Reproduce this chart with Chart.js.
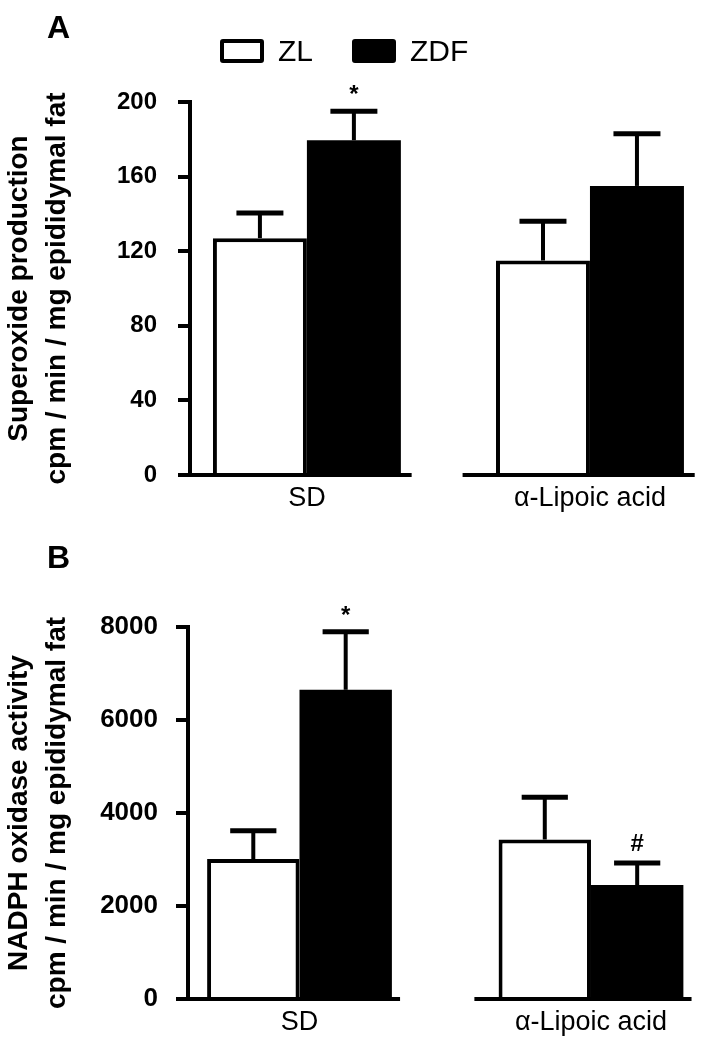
<!DOCTYPE html>
<html>
<head>
<meta charset="utf-8">
<title>Superoxide production and NADPH oxidase activity</title>
<script src="https://cdn.jsdelivr.net/npm/chart.js@4.4.1/dist/chart.umd.min.js"></script>
<style>
  html, body { margin: 0; padding: 0; background: #fff; }
  body { font-family: "Liberation Sans", Arial, Helvetica, sans-serif; color: #000; }
  #page { position: relative; width: 703px; height: 1045px; overflow: hidden; }
  .panel { position: absolute; left: 0; width: 703px; }
  #panelA { top: 0; height: 520px; }
  #panelB { top: 520px; height: 525px; }
  .letter { position: absolute; left: 47px; font-weight: bold; font-size: 32px; line-height: 32px; }
  #letterA { top: 11px; }
  #letterB { top: 541px; }
  #legend { position: absolute; left: 220px; top: 39px; display: flex; align-items: center; height: 24px; }
  .item { display: flex; align-items: center; margin-right: 39px; font-size: 30px; line-height: 24px; }
  .swatch { width: 44px; height: 24px; box-sizing: border-box; border: 4px solid #000; border-radius: 3px; margin-right: 14px; }
</style>
</head>
<body>
<div id="page">
  <div class="panel" id="panelA"><canvas id="chartA"></canvas></div>
  <div class="panel" id="panelB"><canvas id="chartB"></canvas></div>
  <div class="letter" id="letterA">A</div>
  <div class="letter" id="letterB">B</div>
  <div id="legend"></div>
</div>
<script>
const FONT = "'Liberation Sans', Arial, Helvetica, sans-serif";

const categories = ["SD", "α-Lipoic acid"];
const seriesNames = ["ZL", "ZDF"];
const seriesFill = ["#ffffff", "#000000"];

// panel A - superoxide production (cpm / min / mg epididymal fat)
const superoxideZL = [127, 115];
const superoxideZLErr = [13.5, 21];
const superoxideZDF = [179.5, 155];
const superoxideZDFErr = [15.5, 28];
const superoxideZDFMarks = ["*", ""];
const superoxideTicks = [0, 40, 80, 120, 160, 200];

// panel B - NADPH oxidase activity
const nadphZL = [3010, 3430];
const nadphZLErr = [610, 910];
const nadphZDF = [6650, 2450];
const nadphZDFErr = [1250, 475];
const nadphZDFMarks = ["*", "#"];
const nadphTicks = [0, 2000, 4000, 6000, 8000];

function points(values) {
  return values.map((v, i) => ({ x: i, y: v }));
}

function buildDatasets(zl, zlErr, zdf, zdfErr, zdfMarks) {
  return [
    {
      label: seriesNames[0],
      data: points(zl),
      errors: zlErr,
      marks: [],
      backgroundColor: seriesFill[0],
      borderColor: "#000",
      borderWidth: 4,
      borderSkipped: "bottom"
    },
    {
      label: seriesNames[1],
      data: points(zdf),
      errors: zdfErr,
      marks: zdfMarks,
      backgroundColor: seriesFill[1],
      borderColor: "#000",
      borderWidth: 0
    }
  ];
}

// error bars (upper only), significance marks and the broken x baseline
const barExtras = {
  id: "barExtras",
  afterDatasetsDraw(chart, args, opts) {
    const { ctx, chartArea } = chart;
    const xs = chart.scales.x;
    const ys = chart.scales.y;
    const base = ys.getPixelForValue(0);
    ctx.save();
    ctx.strokeStyle = "#000";
    ctx.fillStyle = "#000";
    ctx.lineCap = "butt";

    ctx.lineWidth = 4;
    categories.forEach((c, i) => {
      const x0 = i === 0 ? chartArea.left - 2 : xs.getPixelForValue(i + opts.gapLeft);
      const x1 = xs.getPixelForValue(i + opts.gapRight);
      ctx.beginPath();
      ctx.moveTo(x0, base);
      ctx.lineTo(x1, base);
      ctx.stroke();
    });

    chart.data.datasets.forEach((ds, di) => {
      chart.getDatasetMeta(di).data.forEach((bar, i) => {
        const top = ys.getPixelForValue(ds.data[i].y + ds.errors[i]);
        const half = bar.width / 4;
        ctx.lineWidth = 4;
        ctx.beginPath();
        ctx.moveTo(bar.x, bar.y);
        ctx.lineTo(bar.x, top);
        ctx.stroke();
        ctx.lineWidth = 5;
        ctx.beginPath();
        ctx.moveTo(bar.x - half, top);
        ctx.lineTo(bar.x + half, top);
        ctx.stroke();
        const mark = ds.marks[i];
        if (mark) {
          ctx.font = `bold 24px ${FONT}`;
          ctx.textAlign = "center";
          ctx.textBaseline = "alphabetic";
          ctx.fillText(mark, bar.x, top - (mark === "*" ? 9 : 12));
        }
      });
    });
    ctx.restore();
  }
};

function makeChart(id, cfg) {
  return new Chart(document.getElementById(id), {
    type: "bar",
    data: { datasets: cfg.datasets },
    plugins: [barExtras],
    options: {
      responsive: true,
      maintainAspectRatio: false,
      animation: false,
      layout: { padding: { top: cfg.top, right: 10, left: 0, bottom: 0 } },
      datasets: { bar: { categoryPercentage: cfg.groupWidth, barPercentage: 1 } },
      plugins: {
        legend: { display: false },
        tooltip: { enabled: false },
        barExtras: { gapLeft: cfg.gapLeft, gapRight: cfg.gapRight }
      },
      scales: {
        x: {
          type: "linear",
          offset: false,
          bounds: "data",
          min: cfg.xMin,
          max: cfg.xMax,
          afterBuildTicks: (s) => { s.ticks = categories.map((c, i) => ({ value: i })); },
          afterFit: (s) => { s.height = cfg.xHeight; },
          ticks: {
            callback: (v) => categories[v] ?? "",
            autoSkip: false,
            maxRotation: 0,
            color: "#000",
            padding: 7,
            font: { family: FONT, size: 27 }
          },
          grid: { display: false, drawTicks: false, offset: false },
          border: { display: false }
        },
        y: {
          min: cfg.ticks[0],
          max: cfg.ticks[cfg.ticks.length - 1],
          afterBuildTicks: (s) => { s.ticks = cfg.ticks.map((v) => ({ value: v })); },
          afterFit: (s) => { s.width = cfg.yWidth; },
          ticks: {
            callback: (v) => String(v),
            color: "#000",
            padding: cfg.tickPad,
            font: { family: FONT, size: cfg.tickSize, weight: "bold" }
          },
          grid: {
            drawOnChartArea: false,
            drawTicks: true,
            tickLength: 12,
            tickWidth: 4,
            tickColor: "#000",
            color: "#000",
            lineWidth: 4
          },
          border: { display: true, color: "#000", width: 4 },
          title: {
            display: true,
            text: cfg.title,
            color: "#000",
            padding: { top: 0, bottom: 0 },
            font: { family: FONT, size: 28, weight: "bold", lineHeight: 38 / 28 }
          }
        }
      }
    }
  });
}

function renderLegend() {
  const box = document.getElementById("legend");
  seriesNames.forEach((name, i) => {
    const item = document.createElement("span");
    item.className = "item";
    item.innerHTML = `<span class="swatch" style="background:${seriesFill[i]}"></span>${name}`;
    box.appendChild(item);
  });
}

renderLegend();

makeChart("chartA", {
  datasets: buildDatasets(superoxideZL, superoxideZLErr, superoxideZDF, superoxideZDFErr, superoxideZDFMarks),
  ticks: superoxideTicks,
  title: ["Superoxide production", "cpm / min / mg epididymal fat"],
  top: 102,
  xHeight: 45,
  yWidth: 190,
  xMin: -0.413,
  xMax: 1.364,
  groupWidth: 0.664,
  gapLeft: -0.45,
  gapRight: 0.37,
  tickPad: 21,
  tickSize: 24
});

makeChart("chartB", {
  datasets: buildDatasets(nadphZL, nadphZLErr, nadphZDF, nadphZDFErr, nadphZDFMarks),
  ticks: nadphTicks,
  title: ["NADPH oxidase activity", "cpm / min / mg epididymal fat"],
  top: 107,
  xHeight: 46,
  yWidth: 188,
  xMin: -0.3825,
  xMax: 1.35,
  groupWidth: 0.634,
  gapLeft: -0.40,
  gapRight: 0.345,
  tickPad: 18,
  tickSize: 26
});
</script>
</body>
</html>
